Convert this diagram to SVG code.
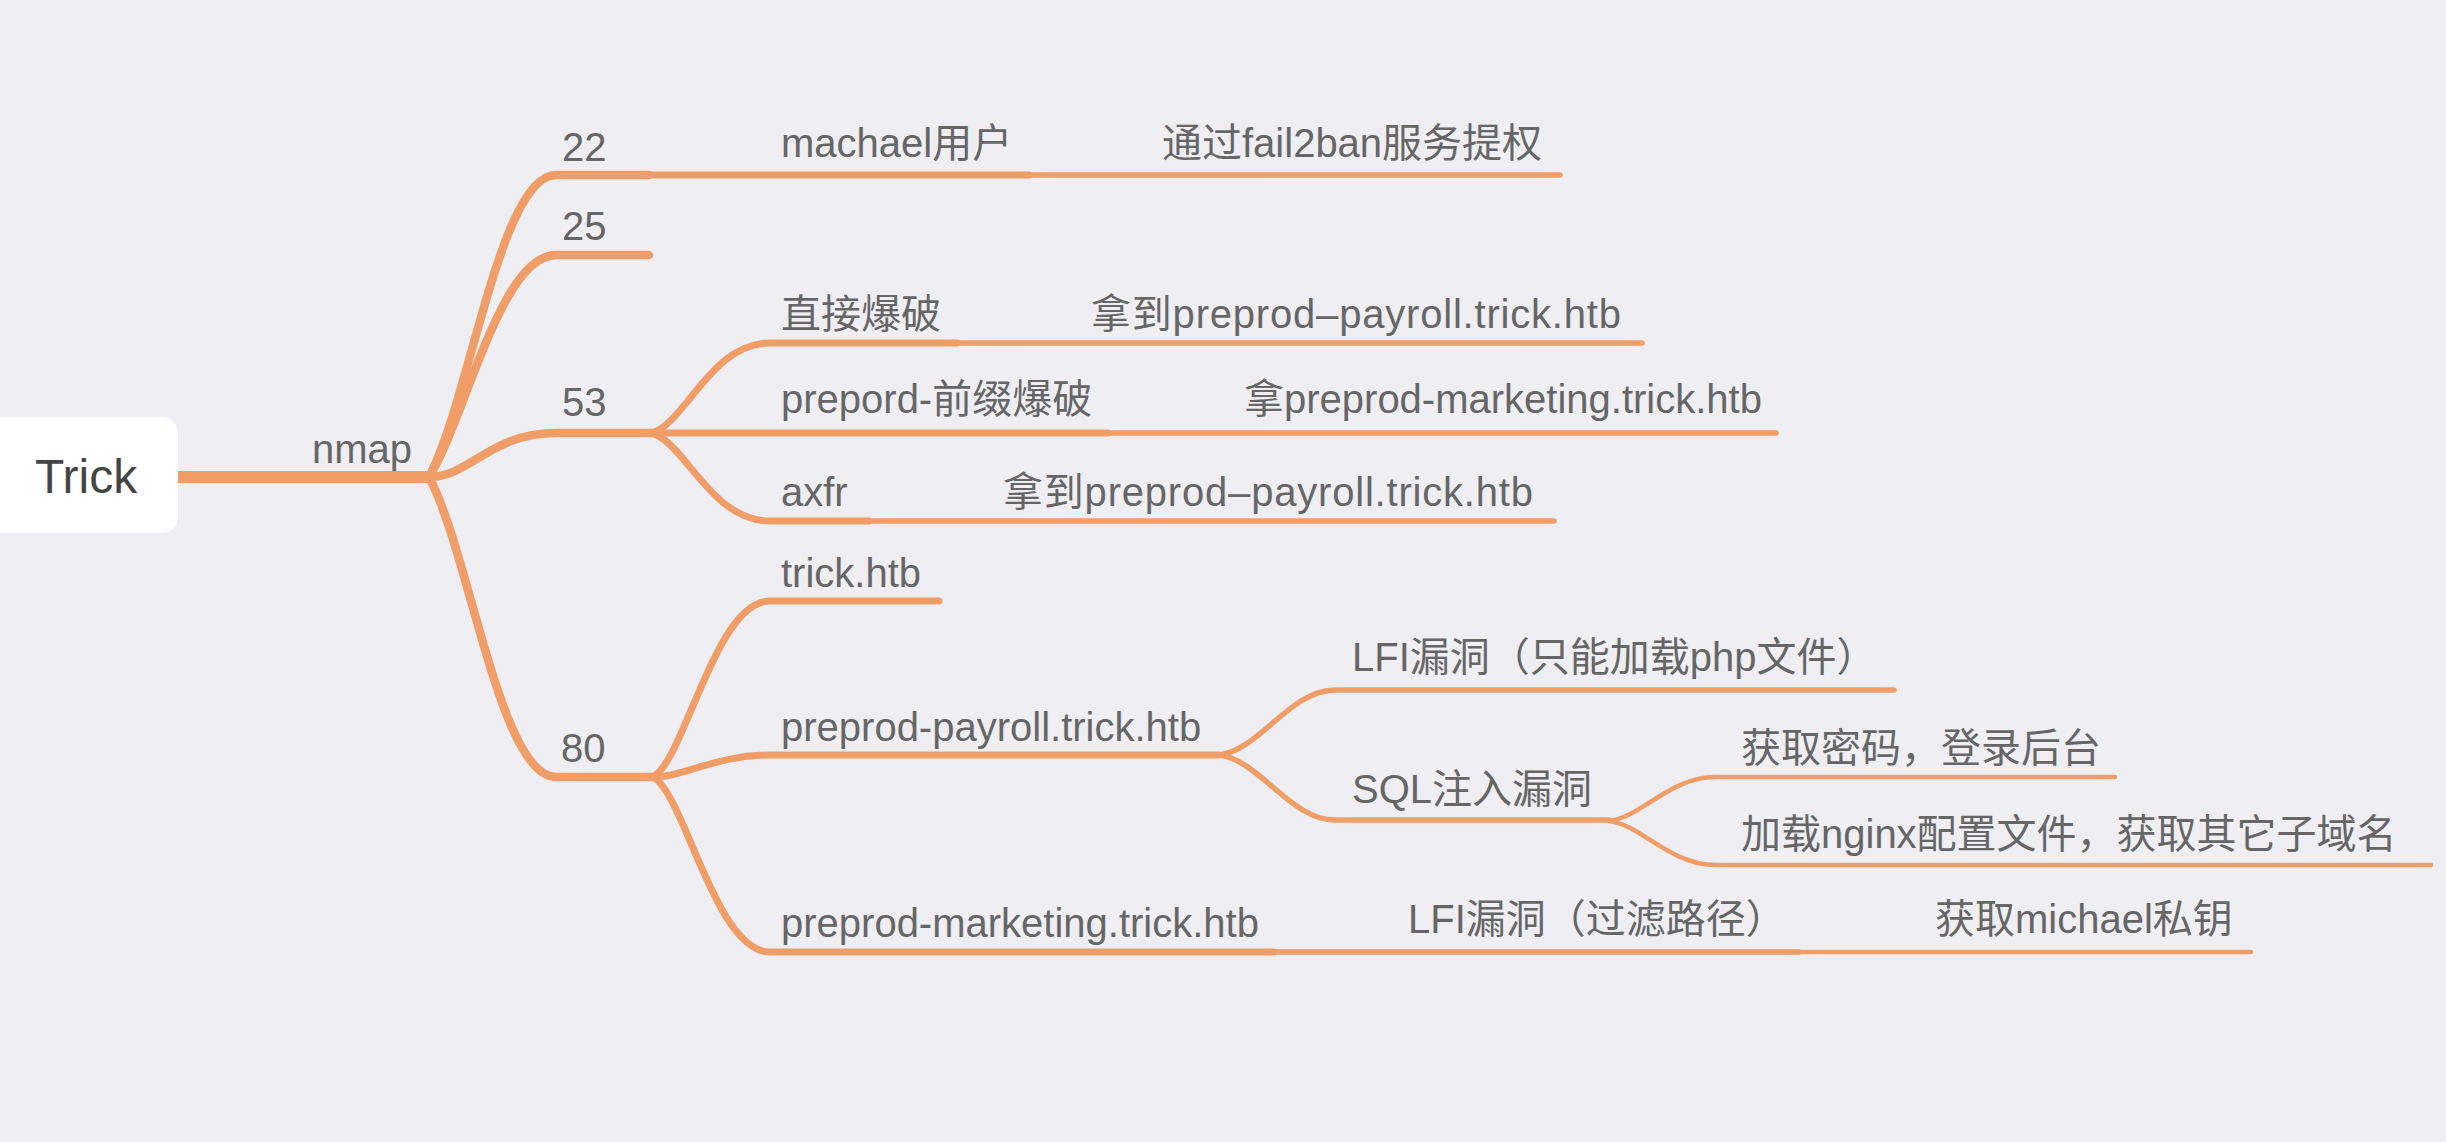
<svg xmlns="http://www.w3.org/2000/svg" width="2446" height="1142" viewBox="0 0 2446 1142">
<style>
.bg{fill:#EEEEF3}
.ln{fill:none;stroke:#F19D67;stroke-linecap:round;stroke-linejoin:round}
.w12{stroke-width:12;stroke-linecap:butt}
.w8{stroke-width:8.5}
.w7{stroke-width:7}
.w5{stroke-width:5.5}
.w4{stroke-width:4.5}
.t{font-family:"Liberation Sans","Noto Sans CJK SC",sans-serif;font-size:40px;fill:#666666}
.root{font-family:"Liberation Sans","Noto Sans CJK SC",sans-serif;font-size:48px;fill:#454545}
</style>
<rect class="bg" x="0" y="0" width="2446" height="1142"/>
<g id="connectors">
<path class="ln w12" d="M176,477 H432"/>
<path class="ln w8" d="M429,477 C470,400 500,175 556,175 H649"/>
<path class="ln w8" d="M429,477 C465,420 500,255 556,255 H649"/>
<path class="ln w8" d="M429,477 C470,477 490,433 556,433 H651"/>
<path class="ln w8" d="M429,477 C470,554 500,777 556,777 H653"/>
<path class="ln w7" d="M649,175 H1029"/>
<path class="ln w7" d="M651,433 C685,425 710,343 770,343 H957"/>
<path class="ln w7" d="M651,433 H1108"/>
<path class="ln w7" d="M651,433 C685,441 710,521 770,521 H869"/>
<path class="ln w7" d="M653,777 C685,760 715,601 770,601 H939"/>
<path class="ln w7" d="M653,777 C685,777 715,755 770,755 H1219"/>
<path class="ln w7" d="M653,777 C685,794 715,952 770,952 H1274"/>
<path class="ln w5" d="M1029,175 H1560"/>
<path class="ln w5" d="M957,343 H1642"/>
<path class="ln w5" d="M1108,433 H1776"/>
<path class="ln w5" d="M869,521 H1554"/>
<path class="ln w5" d="M1219,755 C1260,750 1290,690 1335,690 H1894"/>
<path class="ln w5" d="M1219,755 C1260,760 1290,820 1335,820 H1609"/>
<path class="ln w5" d="M1274,952 H1799"/>
<path class="ln w4" d="M1609,821 C1640,818 1670,777 1715,777 H2115"/>
<path class="ln w4" d="M1609,821 C1640,824 1670,865 1715,865 H2431"/>
<path class="ln w4" d="M1799,952 H2251"/>
</g>
<g id="node-trick">
<rect x="-20" y="417" width="198" height="116" rx="16" ry="16" fill="#FFFFFF"/>
<text class="root" x="35" y="493">Trick</text>
</g>
<g id="node-nmap"><text class="t" x="312" y="463">nmap</text></g>
<g id="node-22"><text class="t" x="562" y="161">22</text></g>
<g id="node-25"><text class="t" x="562" y="240">25</text></g>
<g id="node-53"><text class="t" x="562" y="416">53</text></g>
<g id="node-80"><text class="t" x="561" y="762">80</text></g>
<g id="node-machael"><text class="t" x="781" y="157">machael用户</text></g>
<g id="node-fail2ban"><text class="t" x="1162" y="157">通过fail2ban服务提权</text></g>
<g id="node-brute"><text class="t" x="781" y="328">直接爆破</text></g>
<g id="node-brute-res"><text class="t" x="1091" y="328" textLength="530" lengthAdjust="spacing">拿到preprod–payroll.trick.htb</text></g>
<g id="node-prefix"><text class="t" x="781" y="413">prepord-前缀爆破</text></g>
<g id="node-prefix-res"><text class="t" x="1244" y="413">拿preprod-marketing.trick.htb</text></g>
<g id="node-axfr"><text class="t" x="781" y="506">axfr</text></g>
<g id="node-axfr-res"><text class="t" x="1003" y="506" textLength="530" lengthAdjust="spacing">拿到preprod–payroll.trick.htb</text></g>
<g id="node-tricktb"><text class="t" x="781" y="587">trick.htb</text></g>
<g id="node-payroll"><text class="t" x="781" y="741">preprod-payroll.trick.htb</text></g>
<g id="node-marketing"><text class="t" x="781" y="937">preprod-marketing.trick.htb</text></g>
<g id="node-lfi1"><text class="t" x="1352" y="671">LFI漏洞（只能加载php文件）</text></g>
<g id="node-sql"><text class="t" x="1352" y="803">SQL注入漏洞</text></g>
<g id="node-pass"><text class="t" x="1741" y="762">获取密码，登录后台</text></g>
<g id="node-nginx"><text class="t" x="1741" y="848">加载nginx配置文件，获取其它子域名</text></g>
<g id="node-lfi2"><text class="t" x="1408" y="933">LFI漏洞（过滤路径）</text></g>
<g id="node-key"><text class="t" x="1935" y="933">获取michael私钥</text></g>
</svg>
